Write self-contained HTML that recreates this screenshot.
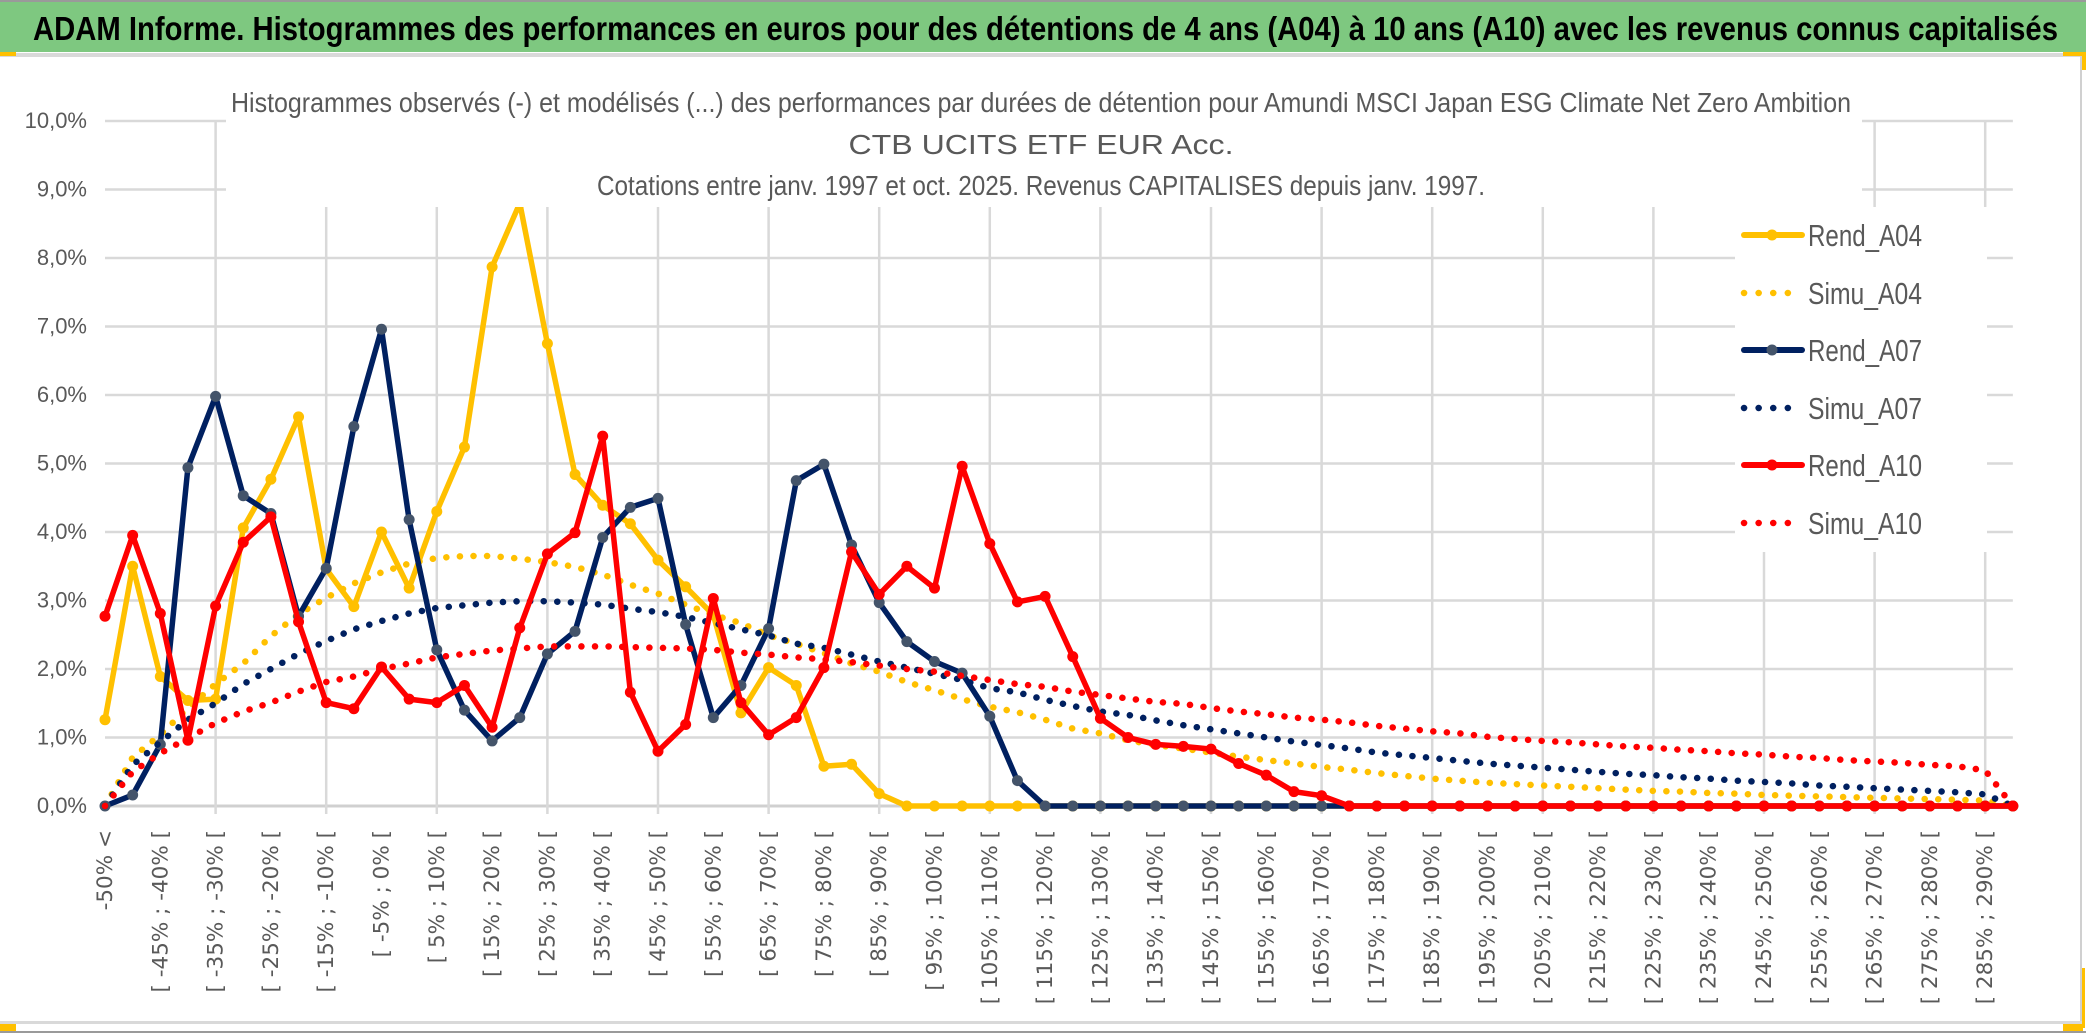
<!DOCTYPE html>
<html><head><meta charset="utf-8"><style>
html,body{margin:0;padding:0;background:#fff;}
svg{display:block;}
</style></head><body>
<svg id="chart" width="2086" height="1033" viewBox="0 0 2086 1033" xmlns="http://www.w3.org/2000/svg">
  <rect x="0" y="0" width="2086" height="1033" fill="#ffffff"/>
  <rect x="0" y="2" width="2086" height="50" fill="#7ec880"/>
  <rect x="0" y="0" width="2086" height="2" fill="#9a9a9a"/>
  <text x="33" y="40" font-family="'Liberation Sans Narrow','Liberation Sans',sans-serif" font-weight="bold" font-size="33" fill="#000" textLength="2025" lengthAdjust="spacingAndGlyphs">ADAM Informe. Histogrammes des performances en euros pour des détentions de 4 ans (A04) à 10 ans (A10) avec les revenus connus capitalisés</text>
  <rect x="0" y="53" width="2082" height="4" fill="#d9d9d9"/>
  <rect x="2080" y="55" width="2" height="970" fill="#d0d0d0"/>
  <rect x="0" y="1021" width="2082" height="3" fill="#d9d9d9"/>
  <rect x="0" y="1031" width="2086" height="2" fill="#9a9a9a"/>
  <rect x="0" y="52" width="16" height="4" fill="#ffc000"/>
  <rect x="0" y="1024" width="16" height="7" fill="#ffc000"/>
  <rect x="2063" y="52" width="23" height="4" fill="#ffc000"/>
  <rect x="2082" y="52" width="4" height="18" fill="#ffc000"/>
  <rect x="2063" y="1024" width="20" height="7" fill="#ffc000"/>
  <rect x="2082" y="968" width="3" height="60" fill="#ffc000"/>
  <g id="grid"></g>
  <g id="series"></g>
  <rect x="226" y="78" width="1636" height="129" fill="#ffffff"/>
  <g font-family="'Liberation Sans Narrow','Liberation Sans',sans-serif" font-size="28" fill="#595959" text-anchor="middle">
    <text x="1041" y="112" textLength="1620" lengthAdjust="spacingAndGlyphs">Histogrammes observés (-) et modélisés (...) des performances par durées de détention pour Amundi MSCI Japan ESG Climate Net Zero Ambition</text>
    <text x="1041" y="154" textLength="385" lengthAdjust="spacingAndGlyphs">CTB UCITS ETF EUR Acc.</text>
    <text x="1041" y="195" textLength="888" lengthAdjust="spacingAndGlyphs">Cotations entre janv. 1997 et oct. 2025. Revenus CAPITALISES depuis janv. 1997.</text>
  </g>
  <rect x="1735" y="207" width="252" height="345" fill="#ffffff"/>
  <g id="legend"></g>
</svg>
<script>
// ---- data (percent values per category index) ----
const categoryLabels = ["-50% <"];
for (let a = -50; a < 295; a += 5) categoryLabels.push("[ " + a + "% ; " + (a + 5) + "% [");
const yTicks = [0,1,2,3,4,5,6,7,8,9,10];
const rendA04 = [1.26,3.5,1.89,1.54,1.56,4.06,4.77,5.68,3.46,2.91,4.0,3.18,4.3,5.24,7.87,8.8,6.75,4.84,4.39,4.12,3.59,3.2,2.79,1.36,2.02,1.76,0.58,0.61,0.18,0,0,0,0,0,0,0,0,0,0,0,0,0,0,0,0,0,0,0,0,0,0,0,0,0,0,0,0,0,0,0,0,0,0,0,0,0,0,0,0,0];
const simuA04 = [0,0.71,1.04,1.43,1.78,2.08,2.48,2.8,3.04,3.25,3.41,3.54,3.62,3.65,3.65,3.61,3.56,3.49,3.38,3.23,3.1,2.94,2.79,2.67,2.49,2.37,2.23,2.08,1.96,1.81,1.69,1.56,1.45,1.37,1.26,1.13,1.06,0.96,0.89,0.84,0.78,0.72,0.67,0.62,0.57,0.53,0.48,0.44,0.4,0.37,0.34,0.32,0.3,0.28,0.26,0.24,0.22,0.21,0.19,0.18,0.16,0.15,0.14,0.13,0.12,0.11,0.1,0.09,0.08,0];
const rendA07 = [0,0.16,0.9,4.94,5.98,4.53,4.27,2.77,3.47,5.54,6.96,4.18,2.28,1.4,0.95,1.29,2.22,2.55,3.92,4.36,4.49,2.65,1.29,1.76,2.59,4.75,4.99,3.81,2.97,2.4,2.11,1.94,1.31,0.37,0,0,0,0,0,0,0,0,0,0,0,0,0,0,0,0,0,0,0,0,0,0,0,0,0,0,0,0,0,0,0,0,0,0,0,0];
const simuA07 = [0,0.6,0.93,1.26,1.5,1.78,2.0,2.22,2.41,2.58,2.7,2.81,2.89,2.93,2.97,2.99,2.99,2.97,2.94,2.88,2.83,2.76,2.67,2.58,2.49,2.37,2.31,2.21,2.11,2.02,1.93,1.84,1.72,1.66,1.55,1.46,1.38,1.33,1.25,1.18,1.12,1.06,1.0,0.94,0.89,0.84,0.78,0.74,0.7,0.66,0.62,0.59,0.56,0.53,0.5,0.47,0.45,0.42,0.4,0.37,0.35,0.33,0.3,0.28,0.26,0.24,0.22,0.2,0.17,0];
const rendA10 = [2.77,3.95,2.81,0.96,2.92,3.85,4.22,2.69,1.51,1.42,2.03,1.56,1.51,1.76,1.15,2.6,3.68,3.99,5.4,1.66,0.8,1.19,3.03,1.51,1.04,1.29,2.02,3.71,3.09,3.5,3.18,4.96,3.83,2.98,3.06,2.18,1.28,1.0,0.9,0.87,0.83,0.62,0.45,0.21,0.15,0,0,0,0,0,0,0,0,0,0,0,0,0,0,0,0,0,0,0,0,0,0,0,0,0];
const simuA10 = [0,0.5,0.77,0.99,1.21,1.38,1.51,1.67,1.81,1.89,2.0,2.08,2.17,2.22,2.27,2.3,2.33,2.33,2.33,2.32,2.31,2.3,2.28,2.24,2.21,2.17,2.14,2.1,2.05,2.0,1.96,1.9,1.84,1.78,1.74,1.67,1.62,1.57,1.52,1.49,1.43,1.38,1.34,1.29,1.26,1.22,1.17,1.13,1.09,1.06,1.01,0.98,0.95,0.93,0.9,0.87,0.85,0.82,0.8,0.77,0.75,0.72,0.7,0.67,0.65,0.63,0.6,0.58,0.52,0];

const NS = "http://www.w3.org/2000/svg";
const X0 = 105, STEP = 27.65, Y0 = 806, YPER = 68.5;
function xPos(i){ return X0 + i * STEP; }
function yPos(v){ return Y0 - v * YPER; }
function mk(tag, attrs, parent){
  const e = document.createElementNS(NS, tag);
  for (const k in attrs) e.setAttribute(k, attrs[k]);
  parent.appendChild(e); return e;
}
const grid = document.getElementById("grid");
const nCat = categoryLabels.length;
const xEnd = xPos(nCat - 1);
yTicks.forEach(t => {
  const l = mk("line", {x1:X0, x2:xEnd, y1:yPos(t), y2:yPos(t), stroke: t===0?"#d0d0d0":"#d9d9d9", "stroke-width": t===0?3:2.5}, grid);
  
  
  const tx = mk("text", {x:87, y:yPos(t)+7, "text-anchor":"end", "font-family":"'Liberation Sans Narrow','Liberation Sans',sans-serif", "font-size":"22", fill:"#595959"}, grid);
  tx.textContent = t.toFixed(1).replace(".", ",") + "%";
  
  
});
for (let i = 4; i < nCat; i += 4) {
  const l = mk("line", {x1:xPos(i), x2:xPos(i), y1:yPos(10), y2:Y0+8, stroke:"#d9d9d9", "stroke-width":2.5}, grid);
  
  
}
for (let i = 0; i < nCat; i += 2) {
  const x = xPos(i) + 7, y = 830;
  const tx = mk("text", {x:x, y:y, "text-anchor":"end", transform:"rotate(-90 "+x+" "+y+")", "font-family":"'DejaVu Sans',sans-serif", "font-size":"21.5", fill:"#595959"}, grid);
  tx.textContent = categoryLabels[i];
  
  
}
const ser = document.getElementById("series");
function pathD(arr){ return arr.map((v,i)=>(i?"L":"M")+xPos(i).toFixed(1)+" "+yPos(v).toFixed(1)).join(" "); }
function dotted(arr, color, name){
  const p = mk("path", {d:pathD(arr), fill:"none", stroke:color, "stroke-width":6.5, "stroke-linecap":"round", "stroke-dasharray":"0.1 13.5"}, ser);
  
  
}
function solid(arr, color, mcolor, name){
  const g = mk("g", {}, ser);
  
  
  mk("path", {d:pathD(arr), fill:"none", stroke:color, "stroke-width":5.5, "stroke-linejoin":"round"}, g);
  arr.forEach((v,i)=>{
    const c = mk("circle", {cx:xPos(i), cy:yPos(v), r:5.5, fill:mcolor}, g);
    
    
  });
}
solid(rendA04, "#ffc000", "#ffc000", "rend-a04-line");
dotted(simuA04, "#ffc000", "simu-a04-line");
solid(rendA07, "#002060", "#44546a", "rend-a07-line");
dotted(simuA07, "#002060", "simu-a07-line");
solid(rendA10, "#ff0000", "#ff0000", "rend-a10-line");
dotted(simuA10, "#ff0000", "simu-a10-line");

const legendNames = ["Rend_A04","Simu_A04","Rend_A07","Simu_A07","Rend_A10","Simu_A10"];
const legendColors = ["#ffc000","#ffc000","#002060","#002060","#ff0000","#ff0000"];
const legendMarkers = ["#ffc000",null,"#44546a",null,"#ff0000",null];
const legendY = [235,293,350,408,465,523];
const lg = document.getElementById("legend");
legendNames.forEach((n,k)=>{
  const g = mk("g", {}, lg);
  
  
  const y = legendY[k];
  if (legendMarkers[k]) {
    mk("line", {x1:1744, x2:1802, y1:y, y2:y, stroke:legendColors[k], "stroke-width":6, "stroke-linecap":"round"}, g);
    mk("circle", {cx:1772, cy:y, r:5.5, fill:legendMarkers[k]}, g);
  } else {
    mk("line", {x1:1744, x2:1802, y1:y, y2:y, stroke:legendColors[k], "stroke-width":6.5, "stroke-linecap":"round", "stroke-dasharray":"0.1 14.5"}, g);
  }
  const t = mk("text", {x:1808, y:y+11, "font-family":"'Liberation Sans Narrow','Liberation Sans',sans-serif", "font-size":"31", fill:"#595959", textLength:"114", lengthAdjust:"spacingAndGlyphs"}, g);
  t.textContent = n;
});
</script>
</body></html>
